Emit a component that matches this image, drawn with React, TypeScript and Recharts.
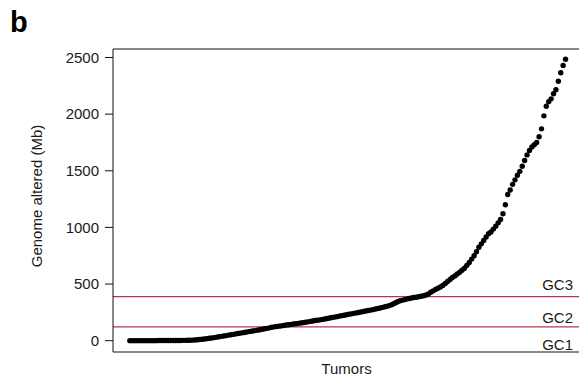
import { ReferenceLine, Scatter, ScatterChart, XAxis, YAxis } from "recharts";

// genome altered (Mb) per tumour, sorted ascending
const genomeAltered = [
	0, 0, 0, 0, 0, 0, 0, 0, 0, 0,
	0, 0, 1, 1, 1, 1, 1, 1, 2, 2,
	2, 2, 3, 3, 4, 4, 5, 6, 8, 10,
	13, 15, 18, 21, 24, 27, 31, 35, 38, 41,
	45, 49, 52, 56, 60, 64, 67, 71, 74, 78,
	82, 85, 89, 93, 97, 101, 105, 109, 113, 118,
	122, 125, 128, 131, 134, 138, 141, 144, 147, 150,
	153, 156, 159, 163, 166, 170, 174, 178, 181, 184,
	188, 192, 196, 200, 204, 208, 212, 217, 221, 225,
	229, 233, 237, 241, 245, 249, 253, 258, 262, 266,
	270, 274, 279, 284, 289, 294, 299, 305, 312, 320,
	330, 342, 350, 356, 362, 367, 372, 377, 381, 384,
	388, 392, 397, 403, 412, 428, 440, 452, 463, 474,
	488, 505, 523, 540, 558, 572, 588, 604, 622, 640,
	665, 690, 720, 750, 785, 825, 855, 885, 915, 945,
	960, 985, 1010, 1040, 1070, 1120, 1200, 1290, 1330, 1380,
	1420, 1460, 1495, 1540, 1590, 1640, 1680, 1710, 1730, 1750,
	1800, 1870, 1985, 2070, 2110, 2135, 2180, 2215, 2290, 2365,
	2430, 2485,
];
const yTicks = [0, 500, 1000, 1500, 2000, 2500];
const gcCutoffs = [121, 389];
const gcLabels = ["GC1", "GC2", "GC3"];

const tumors = genomeAltered.map((mb, i) => ({ rank: i + 1, mb }));

const FONT = "'Liberation Sans', Arial, sans-serif";
const RED = "#b8364a";

const Dot = (props: any) => <circle cx={props.cx} cy={props.cy} r={2.7} fill="#000" />;

const gcText = (x: number, y: number, s: string) => (
	<text key={s} x={x} y={y} textAnchor="end" fontSize={15} fontFamily={FONT} fill="#1a1a1a">
		{s}
	</text>
);

export default function App() {
	return (
		<div style={{ position: "absolute", left: 0, top: 0, width: 579, height: 378, overflow: "hidden", background: "#fff" }}>
			<svg width={40} height={40} style={{ position: "absolute", left: 0, top: 0 }}>
				<text x={10} y={32} fontSize={29} fontWeight="bold" fontFamily={FONT} fill="#000">
					b
				</text>
			</svg>
			<ScatterChart width={585} height={378} margin={{ top: 48, right: 5, bottom: 0, left: 0 }} style={{ fontFamily: FONT }}>
				<XAxis
					xAxisId="top"
					orientation="top"
					type="number"
					dataKey="rank"
					domain={[-6, 188]}
					height={1}
					tick={false}
					tickLine={false}
					axisLine={{ stroke: "#111", strokeWidth: 1 }}
				/>
				<XAxis
					type="number"
					dataKey="rank"
					domain={[-6, 188]}
					height={26}
					tick={false}
					tickLine={false}
					axisLine={{ stroke: "#111", strokeWidth: 1 }}
					label={(p: any) => (
						<text x={p.viewBox.x + p.viewBox.width / 2} y={374} textAnchor="middle" fontSize={15} fontFamily={FONT} fill="#1a1a1a">
							Tumors
						</text>
					)}
				/>
				<YAxis
					type="number"
					dataKey="mb"
					domain={[-100, 2575]}
					ticks={yTicks}
					width={113}
					tickSize={8}
					tickMargin={6}
					tick={{ fontSize: 15, fill: "#1a1a1a", fontFamily: FONT }}
					tickLine={{ stroke: "#111" }}
					axisLine={{ stroke: "#111", strokeWidth: 1 }}
					label={() => (
						<text x={42} y={196} transform="rotate(-90, 42, 196)" textAnchor="middle" fontSize={15} fontFamily={FONT} fill="#1a1a1a">
							Genome altered (Mb)
						</text>
					)}
				/>
				<ReferenceLine
					y={gcCutoffs[1]}
					stroke={RED}
					strokeWidth={1.3}
					label={(p: any) => gcText(p.viewBox.x + p.viewBox.width - 7, p.viewBox.y - 7, gcLabels[2])}
				/>
				<ReferenceLine
					y={gcCutoffs[0]}
					stroke={RED}
					strokeWidth={1.3}
					label={(p: any) => (
						<g>
							{gcText(p.viewBox.x + p.viewBox.width - 7, p.viewBox.y - 4, gcLabels[1])}
							{gcText(p.viewBox.x + p.viewBox.width - 7, p.viewBox.y + 23, gcLabels[0])}
						</g>
					)}
				/>
				<Scatter data={tumors} shape={Dot} isAnimationActive={false} />
			</ScatterChart>
		</div>
	);
}
